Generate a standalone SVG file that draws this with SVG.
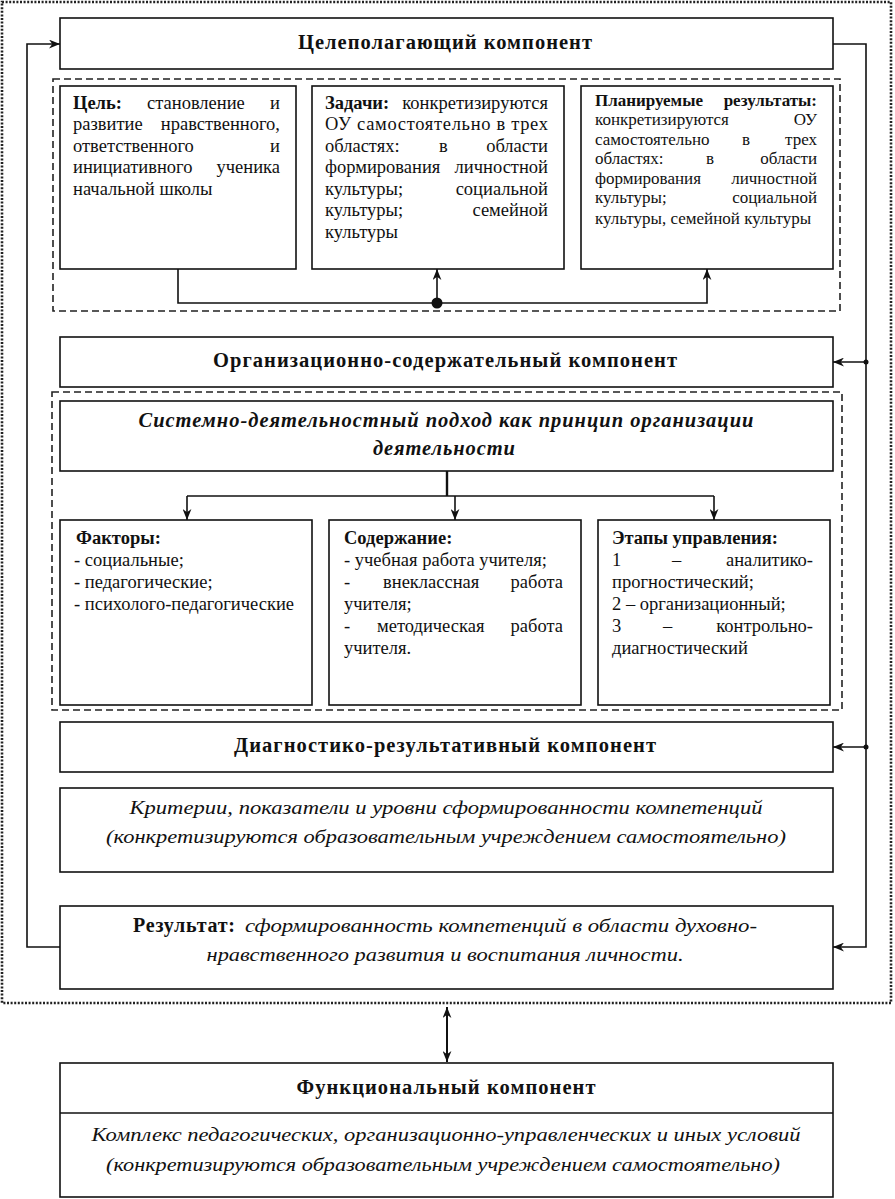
<svg xmlns="http://www.w3.org/2000/svg" width="895" height="1199" viewBox="0 0 895 1199" font-family="'Liberation Serif', 'DejaVu Serif', serif">
<style>
.box{fill:#fff;stroke:#111;stroke-width:1.6}
.dash{fill:none;stroke:#222;stroke-width:1.6;stroke-dasharray:7 4}
.dot{fill:none;stroke:#222;stroke-width:2.6;stroke-dasharray:2 1.6}
.ln{fill:none;stroke:#111;stroke-width:1.6}
text{font-family:'Liberation Serif','DejaVu Serif',serif;fill:#111}
.t{font-size:20.5px;font-weight:bold}
.b{font-size:18.5px}
.s{font-size:17px}
.bd{font-weight:bold}
.it{font-style:italic}
.m{text-anchor:middle}
.e{text-anchor:end}
</style>
<defs>
<marker id="ah" viewBox="0 0 10 8" refX="10" refY="4" markerWidth="11" markerHeight="9" markerUnits="userSpaceOnUse" orient="auto-start-reverse">
<path d="M0,0 L10,4 L0,8 L3,4 z" fill="#111"/>
</marker>
</defs>
<rect class="dot" x="2" y="2" width="889" height="1001"/>
<rect class="dash" x="53" y="79" width="787" height="232"/>
<rect class="dash" x="52" y="392" width="790" height="318"/>

<g id="connectors">
<polyline class="ln" points="60,947 27,947 27,44 60,44" marker-end="url(#ah)"/>
<polyline class="ln" points="833,44 866,44 866,947 833,947" marker-end="url(#ah)"/>
<line class="ln" x1="866" y1="362" x2="833" y2="362" marker-end="url(#ah)"/>
<line class="ln" x1="866" y1="747" x2="833" y2="747" marker-end="url(#ah)"/>
<circle cx="866" cy="362" r="2.5" fill="#111"/>
<circle cx="866" cy="747" r="2.5" fill="#111"/>
<polyline class="ln" points="178,269 178,303 707,303 707,269" marker-end="url(#ah)"/>
<line class="ln" x1="437" y1="303" x2="437" y2="269" marker-end="url(#ah)"/>
<circle cx="437" cy="303" r="5.5" fill="#111"/>
<line class="ln" x1="447" y1="471" x2="447" y2="496" style="stroke-width:2.4"/>
<line class="ln" x1="187" y1="496" x2="714" y2="496"/>
<line class="ln" x1="187" y1="496" x2="187" y2="520" marker-end="url(#ah)"/>
<line class="ln" x1="455" y1="496" x2="455" y2="520" marker-end="url(#ah)"/>
<line class="ln" x1="714" y1="496" x2="714" y2="520" marker-end="url(#ah)"/>
<line class="ln" x1="447" y1="1007" x2="447" y2="1062" style="stroke-width:2" marker-start="url(#ah)" marker-end="url(#ah)"/>
</g>

<g id="n-celepol">
<rect class="box" x="60" y="18" width="773" height="51"/>
<text class="t m" x="445" y="49" textLength="294">Целеполагающий компонент</text>
</g>

<g id="n-cel">
<rect class="box" x="60" y="86" width="236" height="183"/>
<text class="b bd" x="73" y="109">Цель:</text>
<text class="b" x="147" y="109">становление</text>
<text class="b e" x="280" y="109">и</text>
<text class="b" x="73" y="130">развитие</text>
<text class="b e" x="280" y="130">нравственного,</text>
<text class="b" x="73" y="152">ответственного</text>
<text class="b e" x="280" y="152">и</text>
<text class="b" x="73" y="173">инициативного</text>
<text class="b e" x="280" y="173">ученика</text>
<text class="b" x="73" y="195">начальной школы</text>
</g>

<g id="n-zadachi">
<rect class="box" x="312" y="86" width="252" height="183"/>
<text class="b bd" x="325" y="109">Задачи:</text>
<text class="b e" x="548" y="109">конкретизируются</text>
<text class="b" x="325" y="130" textLength="223">ОУ самостоятельно в трех</text>
<text class="b" x="325" y="152">областях:</text>
<text class="b" x="439" y="152">в</text>
<text class="b e" x="548" y="152">области</text>
<text class="b" x="325" y="173">формирования</text>
<text class="b e" x="548" y="173">личностной</text>
<text class="b" x="325" y="195">культуры;</text>
<text class="b e" x="548" y="195">социальной</text>
<text class="b" x="325" y="216">культуры;</text>
<text class="b e" x="548" y="216">семейной</text>
<text class="b" x="325" y="238">культуры</text>
</g>

<g id="n-plan">
<rect class="box" x="581" y="86" width="252" height="183"/>
<text class="s bd" x="595" y="106">Планируемые</text>
<text class="s bd e" x="817" y="106">результаты:</text>
<text class="s" x="595" y="125">конкретизируются</text>
<text class="s e" x="817" y="125">ОУ</text>
<text class="s" x="595" y="145">самостоятельно</text>
<text class="s" x="742" y="145">в</text>
<text class="s e" x="817" y="145">трех</text>
<text class="s" x="595" y="164">областях:</text>
<text class="s" x="706" y="164">в</text>
<text class="s e" x="817" y="164">области</text>
<text class="s" x="595" y="184">формирования</text>
<text class="s e" x="817" y="184">личностной</text>
<text class="s" x="595" y="203">культуры;</text>
<text class="s e" x="817" y="203">социальной</text>
<text class="s" x="595" y="224">культуры, семейной культуры</text>
</g>

<g id="n-org">
<rect class="box" x="60" y="337" width="773" height="50"/>
<text class="t m" x="445" y="367" textLength="464">Организационно-содержательный компонент</text>
</g>

<g id="n-sist">
<rect class="box" x="60" y="401" width="773" height="70"/>
<text class="t it m" x="446" y="427" textLength="615">Системно-деятельностный подход как принцип организации</text>
<text class="t it m" x="444" y="455" textLength="142">деятельности</text>
</g>

<g id="n-faktory">
<rect class="box" x="60" y="520" width="252" height="185"/>
<text class="b bd" x="76" y="544">Факторы:</text>
<text class="b" x="74" y="566">- социальные;</text>
<text class="b" x="74" y="588">- педагогические;</text>
<text class="b" x="74" y="610">- психолого-педагогические</text>
</g>

<g id="n-soderzh">
<rect class="box" x="329" y="520" width="252" height="185"/>
<text class="b bd" x="344" y="544">Содержание:</text>
<text class="b" x="344" y="566">- учебная работа учителя;</text>
<text class="b" x="344" y="588">-</text>
<text class="b" x="383" y="588">внеклассная</text>
<text class="b e" x="563" y="588">работа</text>
<text class="b" x="344" y="610">учителя;</text>
<text class="b" x="344" y="632">-</text>
<text class="b" x="377" y="632">методическая</text>
<text class="b e" x="563" y="632">работа</text>
<text class="b" x="344" y="654">учителя.</text>
</g>

<g id="n-etapy">
<rect class="box" x="598" y="520" width="232" height="185"/>
<text class="b bd" x="612" y="544">Этапы управления:</text>
<text class="b" x="612" y="566">1</text>
<text class="b" x="672" y="566">–</text>
<text class="b e" x="813" y="566">аналитико-</text>
<text class="b" x="612" y="588">прогностический;</text>
<text class="b" x="612" y="610">2 – организационный;</text>
<text class="b" x="612" y="632">3</text>
<text class="b" x="663" y="632">–</text>
<text class="b e" x="813" y="632">контрольно-</text>
<text class="b" x="612" y="654">диагностический</text>
</g>

<g id="n-diag">
<rect class="box" x="60" y="722" width="773" height="50"/>
<text class="t m" x="445" y="752" textLength="422">Диагностико-результативный компонент</text>
</g>

<g id="n-krit">
<rect class="box" x="60" y="788" width="773" height="84"/>
<text class="b it m" x="446" y="814" textLength="633" lengthAdjust="spacingAndGlyphs">Критерии, показатели и уровни сформированности компетенций</text>
<text class="b it m" x="446" y="843" textLength="680" lengthAdjust="spacingAndGlyphs">(конкретизируются образовательным учреждением самостоятельно)</text>
</g>

<g id="n-result">
<rect class="box" x="60" y="906" width="773" height="83"/>
<text class="b bd" x="133" y="932" style="font-size:20px" textLength="102">Результат:</text>
<text class="b it" x="245" y="932" textLength="512" lengthAdjust="spacingAndGlyphs">сформированность компетенций в области духовно-</text>
<text class="b it m" x="445" y="961" textLength="477" lengthAdjust="spacingAndGlyphs">нравственного развития и воспитания личности.</text>
</g>

<g id="n-funk">
<rect class="box" x="60" y="1063" width="773" height="134"/>
<line class="ln" x1="60" y1="1113" x2="833" y2="1113"/>
<text class="t m" x="446" y="1094" textLength="299">Функциональный компонент</text>
<text class="b it m" x="446" y="1141" textLength="709" lengthAdjust="spacingAndGlyphs">Комплекс педагогических, организационно-управленческих и иных условий</text>
<text class="b it m" x="443" y="1171" textLength="674" lengthAdjust="spacingAndGlyphs">(конкретизируются образовательным учреждением самостоятельно)</text>
</g>
</svg>
